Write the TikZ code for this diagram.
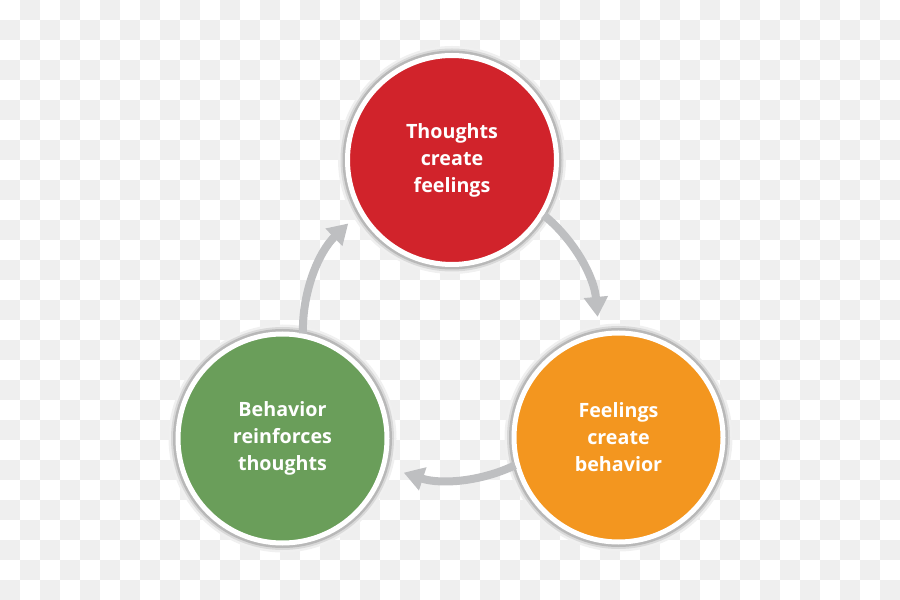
\documentclass[tikz,border=0pt]{standalone}
\usepackage{fontspec}
\setmainfont{Open Sans}
\usetikzlibrary{arrows.meta}
\definecolor{thinkred}{HTML}{D1232B}
\definecolor{feelorange}{HTML}{F3961F}
\definecolor{actgreen}{HTML}{6A9E5A}
\definecolor{arrowgrey}{HTML}{BEBFC1}
\definecolor{checker}{HTML}{EFEFEF}
\newlength\pxu
\setlength\pxu{0.025cm}
\tikzset{
  stage/.style={circle, minimum size=209\pxu, inner sep=0pt, draw=white, line width=5\pxu,
    text=white, align=center, font=\fontsize{14}{19.2}\selectfont\bfseries,
    preaction={draw=black!6, line width=19\pxu},
    preaction={draw=black!15, line width=14\pxu},
    preaction={draw=black!28, line width=10\pxu}},
  cyclearrow/.style={draw=arrowgrey, line width=8\pxu, -{Triangle[length=14.2pt, width=16.4pt]}}
}

\begin{document}
\begin{tikzpicture}[x=0.025cm, y=0.025cm]
\useasboundingbox (0,0) rectangle (900,599);
% checkered backdrop
\begin{scope}
\clip (0,0) rectangle (900,599);
\foreach \i in {0,...,44} \foreach \j in {0,...,29} {
  \pgfmathtruncatemacro\k{\i+\j}
  \ifodd\k \fill[checker] (20*\i,599-20*\j) rectangle ++(20,-20); \fi
}
\end{scope}
% the three stages
\node[stage, fill=thinkred] (thoughts) at (452,439) {Thoughts\\create\\feelings};
\node[stage, fill=feelorange] (feelings) at (618.5,161.5) {Feelings\\create\\behavior};
\node[stage, fill=actgreen] (behavior) at (282.5,160.5) {Behavior\\reinforces\\thoughts};
% arrows round the cycle
\draw[cyclearrow] (thoughts.-31.5) arc[start angle=50.8, end angle=5, radius=148];
\draw[cyclearrow] (feelings.195) arc[start angle=-64.3, end angle=-108, radius=150];
\draw[cyclearrow] (behavior.79.8) arc[start angle=181.2, end angle=134, radius=148.6];
\end{tikzpicture}
\end{document}
